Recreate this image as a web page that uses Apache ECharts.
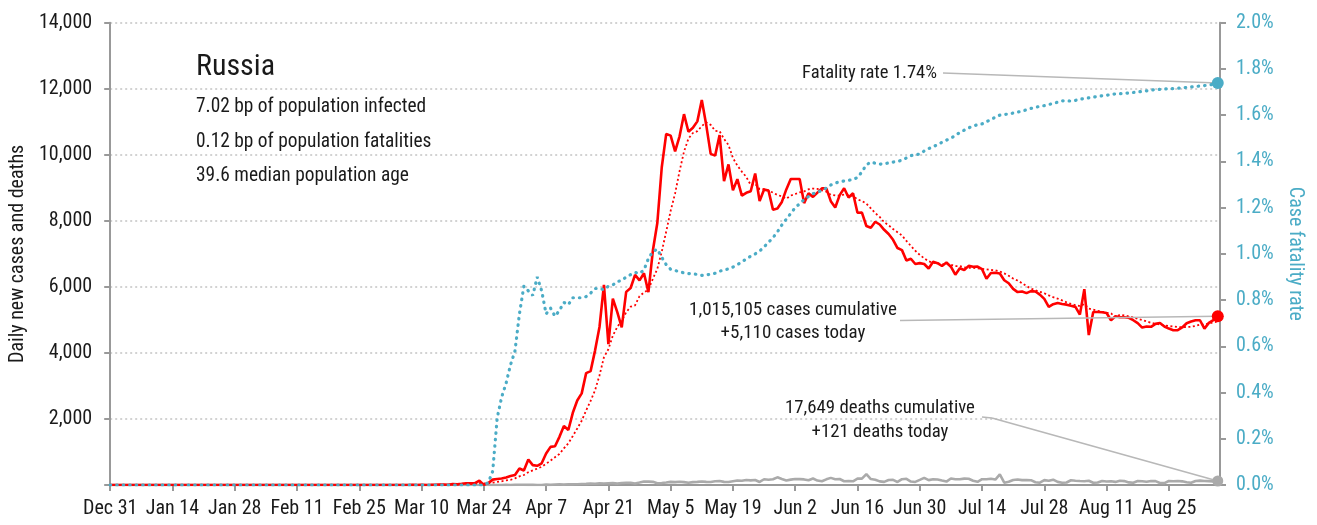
<!DOCTYPE html>
<html><head><meta charset="utf-8">
<script src="https://cdn.jsdelivr.net/npm/echarts@6/dist/echarts.min.js"></script>
<style>html,body{margin:0;padding:0;background:#fff}#c{width:1317px;height:525px}</style>
</head><body><div id="c"></div>
<script>
const FONT = '"Liberation Sans Narrow","Roboto Condensed","DejaVu Sans Condensed","Open Sans",sans-serif';

// x-axis tick labels (days after Dec 31, 2019)
const tickDays = [0,14,28,42,56,70,84,98,112,126,140,154,168,182,196,210,224,238];
const tickLabels = ['Dec 31','Jan 14','Jan 28','Feb 11','Feb 25','Mar 10','Mar 24','Apr 7','Apr 21','May 5','May 19','Jun 2','Jun 16','Jun 30','Jul 14','Jul 28','Aug 11','Aug 25'];

// daily new cases, one value per day from Dec 31
const dailyCases = [
0,0,0,0,0,0,0,0,0,0,
0,0,0,0,0,0,0,0,0,0,
0,0,0,0,0,0,0,0,0,0,
0,0,2,0,0,0,0,0,0,0,
0,0,0,0,0,0,0,0,0,0,
0,0,0,0,0,0,0,0,0,0,
0,0,0,1,0,0,0,1,9,0,
4,0,3,8,17,14,4,27,24,33,
52,54,53,130,5,57,163,182,196,228,
270,302,500,440,771,601,582,658,954,1154,
1175,1459,1786,1667,2186,2558,2774,3388,3448,4070,
4785,6060,4268,5642,5236,4774,5849,5966,6361,6198,
6411,5841,7099,7933,9623,10633,10581,10102,10559,11231,
10699,10817,11012,11656,10899,10028,9974,10598,9200,9709,
8926,9263,8764,8849,8894,9434,8599,8946,8915,8338,
8371,8572,8952,9268,9268,9268,8536,8831,8726,8855,
8984,8985,8595,8404,8779,8987,8706,8835,8246,8248,
7843,7790,7972,7889,7728,7600,7425,7176,7113,6800,
6852,6693,6719,6693,6556,6760,6718,6632,6736,6611,
6368,6562,6509,6635,6611,6615,6537,6248,6422,6428,
6406,6200,6109,5940,5842,5862,5811,5871,5860,5765,
5635,5395,5475,5509,5482,5462,5427,5394,5159,5930,
4540,5241,5241,5230,5210,4990,5110,5080,5080,5065,
4990,4900,4768,4800,4790,4880,4909,4800,4737,4687,
4690,4770,4900,4950,4989,4989,4737,4909,4995,5110];

// trend of daily cases (dotted red), read per day
const casesTrend = [
0,0,0,0,0,0,0,0,0,0,
0,0,0,0,0,0,0,0,0,0,
0,0,0,0,0,0,0,0,0,0,
0,0,0,0,0,0,0,0,0,0,
0,0,0,0,0,0,0,0,0,0,
0,0,0,0,0,0,0,0,0,0,
0,0,0,0.1,0.1,0.1,0.1,0.3,1.6,1.6,
2.1,2,2.4,3.6,5.9,6.6,7.1,10.4,13.9,18.1,
24,30,35,53,50,55,73,92,112,137,
157,200,263,303,387,445,495,551,644,737,
842,940,1110,1265,1483,1712,1944,2260,2544,2870,
3316,3869,4113,4523,4787,4976,5231,5399,5442,5718,
5828,5914,6246,6544,7067,7677,8303,8830,9504,10095,
10490,10660,10714,10868,10982,10906,10726,10712,10481,10295,
9905,9671,9491,9330,9086,9120,8961,8964,8914,8854,
8785,8739,8670,8766,8812,8862,8891,8956,8978,8965,
8924,8884,8787,8769,8761,8798,8777,8756,8650,8601,
8521,8379,8234,8118,7959,7867,7750,7654,7558,7390,
7242,7094,6968,6864,6775,6725,6713,6682,6688,6672,
6626,6627,6591,6579,6576,6559,6548,6531,6511,6499,
6467,6408,6336,6250,6192,6112,6024,5948,5899,5850,
5807,5743,5687,5644,5589,5532,5484,5449,5415,5480,
5342,5308,5276,5248,5222,5197,5080,5157,5134,5109,
5075,5031,4999,4955,4913,4885,4862,4835,4812,4800,
4785,4782,4785,4791,4818,4854,4861,4892,4924,4954];

// daily new deaths (grey)
const dailyDeaths = [
0,0,0,0,0,0,0,0,0,0,
0,0,0,0,0,0,0,0,0,0,
0,0,0,0,0,0,0,0,0,0,
0,0,0,0,0,0,0,0,0,0,
0,0,0,0,0,0,0,0,0,0,
0,0,0,0,0,0,0,0,0,0,
0,0,0,0,0,0,0,0,0,0,
0,0,0,0,0,0,0,0,0,0,
0,0,0,0,0,0,1,1,0,4,
1,8,7,6,4,9,2,2,11,5,
13,18,12,24,18,22,28,34,41,40,
48,44,51,57,42,60,66,66,47,73,
105,101,96,53,58,76,95,86,98,88,
70,88,94,107,96,93,113,119,94,91,
115,135,127,150,139,153,92,174,161,174,
232,181,138,162,182,178,169,144,197,134,
112,171,216,174,181,114,119,113,193,194,
330,181,161,109,95,153,154,92,176,188,
104,93,154,216,147,176,168,135,104,198,
173,174,192,188,130,95,175,175,191,165,
320,70,96,150,165,147,150,146,85,69,
147,129,161,95,70,76,144,130,119,114,
129,70,76,123,107,114,94,129,118,79,
68,121,112,98,119,117,60,57,121,114,
119,111,81,68,123,133,122,117,110,121];

// case fatality rate in percent (blue, right axis)
const fatalityRate = [
0,0,0,0,0,0,0,0,0,0,
0,0,0,0,0,0,0,0,0,0,
0,0,0,0,0,0,0,0,0,0,
0,0,0,0,0,0,0,0,0,0,
0,0,0,0,0,0,0,0,0,0,
0,0,0,0,0,0,0,0,0,0,
0,0,0,0,0,0,0,0,0,0,
0,0,0,0,0,0,0,0,0,0,
0,0,0,0,0,0.01,0.06,0.29,0.38,0.44,
0.52,0.58,0.74,0.86,0.84,0.82,0.90,0.84,0.74,0.765,
0.73,0.755,0.79,0.78,0.81,0.81,0.81,0.815,0.83,0.85,
0.85,0.845,0.86,0.865,0.88,0.885,0.90,0.91,0.92,0.915,
0.93,0.98,1.01,1.02,0.985,0.953,0.933,0.928,0.922,0.918,
0.915,0.913,0.911,0.907,0.909,0.912,0.916,0.925,0.93,0.935,
0.943,0.953,0.965,0.978,0.99,1.0,1.012,1.03,1.05,1.07,
1.095,1.125,1.15,1.175,1.2,1.217,1.235,1.248,1.26,1.267,
1.274,1.285,1.298,1.306,1.312,1.315,1.318,1.322,1.33,1.355,
1.385,1.397,1.392,1.388,1.39,1.393,1.397,1.4,1.405,1.415,
1.425,1.428,1.432,1.445,1.455,1.464,1.472,1.483,1.492,1.5,
1.512,1.525,1.535,1.545,1.553,1.559,1.562,1.572,1.58,1.592,
1.6,1.603,1.605,1.609,1.613,1.618,1.623,1.629,1.634,1.638,
1.641,1.646,1.651,1.656,1.662,1.662,1.661,1.664,1.669,1.672,
1.675,1.678,1.681,1.684,1.686,1.689,1.692,1.693,1.694,1.696,
1.698,1.7,1.703,1.705,1.708,1.711,1.712,1.713,1.714,1.715,
1.717,1.718,1.72,1.722,1.724,1.726,1.728,1.73,1.734,1.739];

const titleLines = ['Russia'];
const infoLines = ['7.02 bp of population infected','0.12 bp of population fatalities','39.6 median population age'];
const noteFatality = 'Fatality rate 1.74%';
const noteCases = ['1,015,105 cases cumulative','+5,110 cases today'];
const noteDeaths = ['17,649 deaths cumulative','+121 deaths today'];

const BLUE = '#4bacc6', RED = '#ff0000', GREY = '#aaaaaa', AX = '#999999', LEAD = '#b8b8b8', TXT = '#1a1a1a';
const last = dailyCases.length - 1;
const pair = arr => arr.map((v, i) => [i, v]);
const leadStyle = {color: LEAD, width: 1.6, type: 'solid'};
const endDot = (arr, color, size) => ({
  symbol: 'circle', symbolSize: size, silent: true, label: {show: false},
  itemStyle: {color: color}, data: [{coord: [last, arr[last]]}]
});
const leader = (segments) => ({
  symbol: ['none', 'none'], silent: true, label: {show: false}, lineStyle: leadStyle,
  emphasis: {disabled: true}, data: segments
});

const txt = (text, x, y, align, size, weight) => ({
  type: 'text', x: x, y: y, silent: true,
  style: {text: text, fill: TXT, fontFamily: FONT, fontSize: size || 19, fontWeight: weight || 'normal', align: align, verticalAlign: 'middle'}
});

const chart = echarts.init(document.getElementById('c'), null, {renderer: 'canvas'});
chart.setOption({
  animation: false,
  textStyle: {fontFamily: FONT},
  grid: {left: 109.5, right: 97, top: 22.7, bottom: 40},
  xAxis: {
    type: 'value', min: 0, max: 249.5, interval: 14,
    axisLine: {lineStyle: {color: AX, width: 2}},
    axisTick: {show: true, length: 6, lineStyle: {color: AX, width: 2}, customValues: tickDays},
    axisLabel: {customValues: tickDays, fontSize: 20, color: TXT, margin: 14, fontFamily: FONT,
      formatter: v => { const k = tickDays.indexOf(Math.round(v)); return k >= 0 ? tickLabels[k] : ''; }},
    splitLine: {show: false}
  },
  yAxis: [{
    type: 'value', min: 0, max: 14000, interval: 2000, position: 'left',
    name: 'Daily new cases and deaths', nameLocation: 'middle', nameGap: 80, nameRotate: 90,
    nameTextStyle: {fontSize: 20, color: TXT, fontFamily: FONT},
    axisLine: {show: true, lineStyle: {color: AX, width: 2}},
    axisTick: {show: true, length: 6, lineStyle: {color: AX, width: 2}},
    axisLabel: {fontSize: 20, color: TXT, margin: 18, fontFamily: FONT,
      formatter: v => v === 0 ? '' : v.toLocaleString('en-US')},
    splitLine: {show: true, lineStyle: {color: '#c4c4c4', type: [2, 3], width: 1.5}}
  }, {
    type: 'value', min: 0, max: 2, interval: 0.2, position: 'right',
    name: 'Case fatality rate', nameLocation: 'middle', nameGap: 50, nameRotate: -90,
    nameTextStyle: {fontSize: 20, color: BLUE, fontFamily: FONT},
    axisLine: {show: true, lineStyle: {color: AX, width: 2}},
    axisTick: {show: true, length: 6, lineStyle: {color: AX, width: 2}},
    axisLabel: {fontSize: 20, color: BLUE, margin: 16, fontFamily: FONT, formatter: v => v.toFixed(1) + '%'},
    splitLine: {show: false}
  }],
  series: [{
    name: 'Daily deaths', type: 'line', yAxisIndex: 0, data: pair(dailyDeaths),
    showSymbol: false, silent: true, z: 2,
    lineStyle: {color: GREY, width: 2.6},
    markPoint: endDot(dailyDeaths, GREY, 11),
    markLine: leader([
      [{x: 982, y: 417}, {x: 992, y: 418}],
      [{x: 992, y: 418}, {coord: [last, dailyDeaths[last]]}]
    ])
  }, {
    name: 'Cases trend', type: 'line', yAxisIndex: 0, data: pair(casesTrend),
    showSymbol: false, silent: true, z: 3,
    lineStyle: {color: RED, width: 1.8, type: [2, 2.5]}
  }, {
    name: 'Daily cases', type: 'line', yAxisIndex: 0, data: pair(dailyCases),
    showSymbol: false, silent: true, z: 4,
    lineStyle: {color: RED, width: 2.6},
    markPoint: endDot(dailyCases, RED, 12),
    markLine: leader([[{x: 900, y: 320.5}, {coord: [last, dailyCases[last]]}]])
  }, {
    name: 'Case fatality rate', type: 'line', yAxisIndex: 1, data: pair(fatalityRate),
    showSymbol: false, silent: true, z: 5,
    lineStyle: {color: BLUE, width: 3.2, type: [0.5, 6], cap: 'round'},
    markPoint: endDot(fatalityRate, BLUE, 12),
    markLine: leader([[{x: 943, y: 73}, {coord: [last, fatalityRate[last]]}]])
  }],
  graphic: [
    txt(titleLines[0], 196, 67, 'left', 30, 'normal'),
    txt(infoLines[0], 196, 107, 'left', 19.4),
    txt(infoLines[1], 196, 142, 'left', 19.4),
    txt(infoLines[2], 196, 176, 'left', 19.4),
    txt(noteFatality, 937, 73, 'right', 18.6),
    txt(noteCases[0], 793, 310, 'center', 19),
    txt(noteCases[1], 793, 333, 'center', 19),
    txt(noteDeaths[0], 880, 408, 'center', 18.8),
    txt(noteDeaths[1], 880, 432, 'center', 18.8)
  ]
});
</script></body></html>
